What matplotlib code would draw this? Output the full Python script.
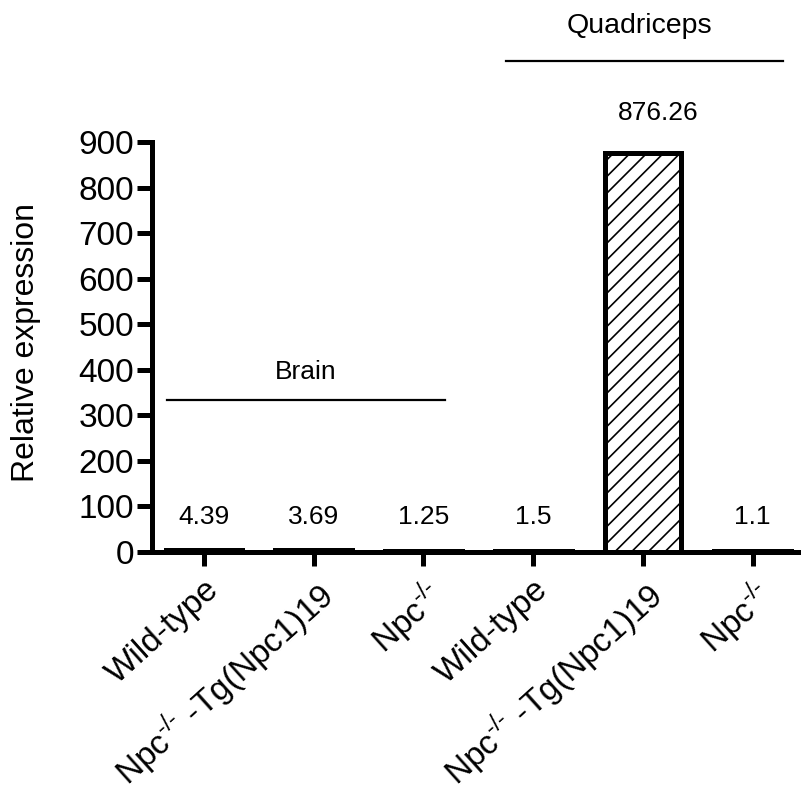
import numpy as np
import matplotlib
matplotlib.use("Agg")
import matplotlib.pyplot as plt
from matplotlib.transforms import ScaledTranslation

plt.rcParams['font.family'] = ['Liberation Sans', 'DejaVu Sans']
plt.rcParams['mathtext.fontset'] = 'custom'
plt.rcParams['mathtext.rm'] = 'Liberation Sans'
plt.rcParams['hatch.linewidth'] = 1.2

# data
categories = [
    "Wild-type",
    r"Npc$^{\text{-/-}}$ -Tg(Npc1)19",
    r"Npc$^{\text{-/-}}$",
    "Wild-type",
    r"Npc$^{\text{-/-}}$ -Tg(Npc1)19",
    r"Npc$^{\text{-/-}}$",
]
values = [4.39, 3.69, 1.25, 1.5, 876.26, 1.1]
value_labels = ["4.39", "3.69", "1.25", "1.5", "876.26", "1.1"]
tissues = ["Brain", "Quadriceps"]
yticks = [0, 100, 200, 300, 400, 500, 600, 700, 800, 900]

x = np.arange(len(values))

fig = plt.figure(figsize=(8.01, 7.96), dpi=100)
ax = fig.add_axes([152/801, (796-552)/796, 649/801, 410/796])

ax.bar(x, values, width=0.7, color='white', edgecolor='black',
       linewidth=3.6, hatch='//', zorder=3)

# numbers above the bars
for i, lab in enumerate(value_labels):
    y = 964 if values[i] > 100 else 77
    xo = 0.14 if values[i] > 100 else 0
    ax.text(x[i] + xo, y, lab, ha='center', va='center', fontsize=19, clip_on=False)

# tissue group lines
ax.plot([-0.34, 2.20], [334, 334], color='black', lw=1.6, clip_on=False)
ax.text(0.93, 395, tissues[0], ha='center', va='center', fontsize=19)
ax.plot([2.75, 5.28], [1078, 1078], color='black', lw=1.6, clip_on=False)
ax.text(3.97, 1155, tissues[1], ha='center', va='center', fontsize=20.5, clip_on=False)

ax.set_xlim(-0.474, 5.44)
ax.set_ylim(0, 900)
ax.set_yticks(yticks)
ax.set_xticks(x, categories, rotation=42, ha='right', rotation_mode='anchor')
for lab in ax.get_xticklabels():
    lab.set_transform(lab.get_transform() + ScaledTranslation(-0.05, 0, fig.dpi_scale_trans))

ax.spines['top'].set_visible(False)
ax.spines['right'].set_visible(False)
ax.spines['left'].set_linewidth(3.6)
ax.spines['bottom'].set_linewidth(3.6)
ax.tick_params(axis='y', length=11, width=3.6, pad=2, labelsize=24)
ax.tick_params(axis='x', length=10, width=3.6, pad=6, labelsize=24)

ax.set_ylabel("Relative expression", fontsize=23)
ax.yaxis.set_label_coords(-0.171, 0.51)

plt.savefig("out.png", dpi=100)
